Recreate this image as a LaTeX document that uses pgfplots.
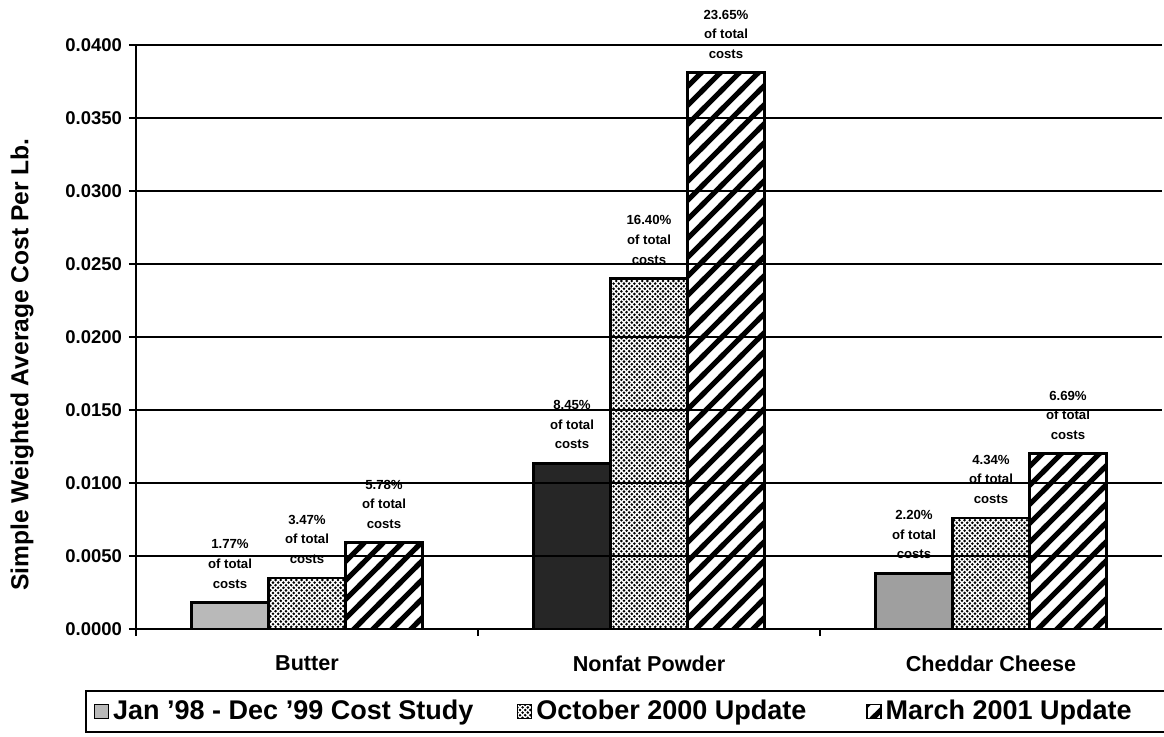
\documentclass[border=0pt]{standalone}
\usepackage{pgfplots}
\pgfplotsset{compat=1.18}
\usepackage{fontspec}
\setmainfont{Liberation Sans}
\usetikzlibrary{patterns}

\pgfdeclarepatternformonly{densedots}{\pgfqpoint{-0.8pt}{-0.8pt}}{\pgfqpoint{2.1pt}{2.1pt}}{\pgfqpoint{2.6pt}{2.6pt}}{%
  \pgfpathcircle{\pgfqpoint{0pt}{0pt}}{0.72pt}\pgfusepath{fill}%
  \pgfpathcircle{\pgfqpoint{1.3pt}{1.3pt}}{0.72pt}\pgfusepath{fill}}
\pgfdeclarepatternformonly{thickstripes}{\pgfqpoint{-2pt}{-2pt}}{\pgfqpoint{11.5pt}{11.5pt}}{\pgfqpoint{9.5pt}{9.5pt}}{%
  \pgfsetlinewidth{2.6pt}\pgfpathmoveto{\pgfqpoint{-2pt}{-2pt}}\pgfpathlineto{\pgfqpoint{11.5pt}{11.5pt}}\pgfusepath{stroke}}

\begin{document}
\begin{tikzpicture}
\useasboundingbox (-68pt,-53.5pt) rectangle (514pt,314.5pt);
\begin{axis}[
  at={(0pt,0pt)}, anchor=south west,
  scale only axis, width=513pt, height=292pt,
  xmin=-0.5, xmax=2.5, ymin=0, ymax=0.04,
  axis x line=bottom, axis y line=left,
  axis line style={-},
  x axis line style={line width=1.4pt},
  y axis line style={line width=0.7pt},
  axis on top,
  ytick={0,0.005,0.01,0.015,0.02,0.025,0.03,0.035,0.04},
  scaled y ticks=false,
  /pgf/number format/assume math mode=true,
  yticklabel style={/pgf/number format/fixed, /pgf/number format/fixed zerofill, /pgf/number format/precision=4, font=\fontsize{9.25}{11}\selectfont\bfseries},
  xtick={-0.5,0.5,1.5}, xticklabels={,,},
  extra x ticks={0,1,2},
  extra x tick labels={Butter,Nonfat Powder,Cheddar Cheese},
  extra x tick style={major tick length=0pt, tick label style={font=\fontsize{10.8}{13}\selectfont\bfseries, yshift=-10pt}},
  major tick length=3.5pt, tick align=outside,
  tick style={black, line width=0.8pt},
  ymajorgrids, major grid style={black, line width=0.8pt},
  ybar, bar width=38.5pt,
  point meta=explicit symbolic,
  nodes near coords={\pgfplotspointmeta\\of total\\costs},
  every node near coord/.append style={font=\fontsize{6.6}{9.8}\selectfont\bfseries, align=center, anchor=south, inner sep=1pt, yshift=5.5pt},
  ylabel={Simple Weighted Average Cost Per Lb.},
  ylabel style={font=\fontsize{12.3}{14}\selectfont\bfseries, at={(axis description cs:-0.111,0.453)}, anchor=center},
  legend columns=3,
  legend style={at={(axis description cs:-0.0497,-0.1045)}, anchor=north west, draw=black, line width=1pt,
    font=\fontsize{13.5}{16}\selectfont\bfseries, inner xsep=4pt, inner ysep=2.5pt,
    /tikz/every even column/.append style={column sep=0pt}},
  legend image code/.code={\draw[#1, line width=0.6pt] (0pt,-3.5pt) rectangle (7pt,3.5pt);},
]
\addplot[fill=gray!55, draw=black, line width=1.4pt, bar shift=-38.5pt] coordinates {(0,0.0018) [1.77\%]};
\addlegendentry{\makebox[200pt][l]{Jan '98 - Dec '99 Cost Study}}
\addplot[fill=black!85, draw=black, line width=1.4pt, bar shift=-38.5pt, forget plot] coordinates {(1,0.01135) [8.45\%]};
\addplot[fill=gray!75, draw=black, line width=1.4pt, bar shift=-38.5pt, forget plot] coordinates {(2,0.0038) [2.20\%]};
\addplot[pattern=densedots, draw=black, line width=1.4pt, bar shift=0pt] coordinates {(0,0.0035) [3.47\%] (1,0.0240) [16.40\%] (2,0.0076) [4.34\%]};
\addlegendentry{\makebox[163pt][l]{October 2000 Update}}
\addplot[pattern=thickstripes, draw=black, line width=1.4pt, bar shift=38.5pt] coordinates {(0,0.0059) [5.78\%] (1,0.0381) [23.65\%] (2,0.0120) [6.69\%]};
\addlegendentry{\makebox[200pt][l]{March 2001 Update}}
\end{axis}
\end{tikzpicture}
\end{document}
